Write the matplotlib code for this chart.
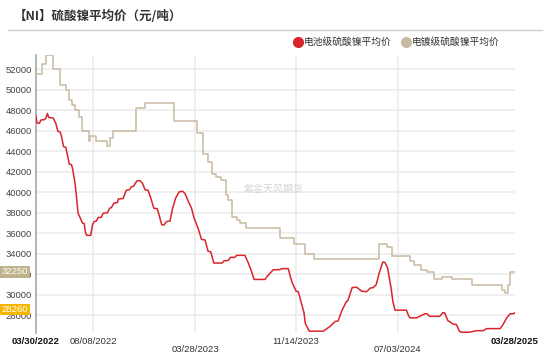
# %% import modules
import numpy as np
import pandas as pd
import matplotlib
matplotlib.use("Agg")
import matplotlib.pyplot as plt
from matplotlib.lines import Line2D

plt.rcParams['font.family'] = ['Liberation Sans', 'Noto Sans CJK SC', 'DejaVu Sans']

# %% Data
# 电镀级 (step series, value holds until next date)
plating_dates = [
    "2022-03-30", "2022-04-12", "2022-04-22", "2022-05-07", "2022-05-24", "2022-06-06",
    "2022-06-13", "2022-06-20", "2022-06-27", "2022-07-06", "2022-07-14", "2022-07-30",
    "2022-08-01", "2022-08-14", "2022-09-07", "2022-09-16", "2022-09-22", "2022-11-14",
    "2022-12-05", "2023-02-09", "2023-04-02", "2023-04-16", "2023-04-27", "2023-05-05",
    "2023-05-16", "2023-05-26", "2023-06-06", "2023-06-12", "2023-06-20", "2023-07-01",
    "2023-07-09", "2023-07-23", "2023-10-09", "2023-11-09", "2023-12-04", "2023-12-25",
    "2024-05-21", "2024-06-09", "2024-06-21", "2024-08-01", "2024-08-10", "2024-08-25",
    "2024-09-07", "2024-09-24", "2024-10-12", "2024-11-03", "2024-12-19", "2025-02-27",
    "2025-03-05", "2025-03-12", "2025-03-17", "2025-03-28",
]
plating_price = [
    51500, 52500, 53400, 52000, 50500, 50000,
    49000, 48500, 48000, 47300, 46000, 45000,
    45500, 45000, 44500, 45300, 46000, 48200,
    48700, 47000, 45800, 43750, 43000, 41800,
    41450, 41200, 39750, 39250, 37550, 37300,
    37000, 36500, 35500, 35000, 34000, 33500,
    35000, 34700, 33750, 33250, 32950, 32450,
    32250, 31500, 31750, 31500, 31000, 30500,
    30200, 31000, 32250, 32250,
]

# 电池级
battery_dates = [
    "2022-03-30", "2022-04-01", "2022-04-07", "2022-04-10", "2022-04-19", "2022-04-22",
    "2022-04-25", "2022-04-28", "2022-05-08", "2022-05-14", "2022-05-19", "2022-05-24",
    "2022-05-27", "2022-06-01", "2022-06-06", "2022-06-09", "2022-06-14", "2022-06-19",
    "2022-06-22", "2022-06-27", "2022-06-30", "2022-07-04", "2022-07-09", "2022-07-14",
    "2022-07-18", "2022-07-21", "2022-07-24", "2022-08-02", "2022-08-06", "2022-08-10",
    "2022-08-15", "2022-08-19", "2022-08-26", "2022-08-30", "2022-09-09", "2022-09-14",
    "2022-09-18", "2022-09-24", "2022-10-02", "2022-10-04", "2022-10-15", "2022-10-22",
    "2022-10-29", "2022-11-03", "2022-11-08", "2022-11-15", "2022-11-22", "2022-11-28",
    "2022-12-04", "2022-12-11", "2022-12-17", "2022-12-24", "2023-01-01", "2023-01-05",
    "2023-01-11", "2023-01-16", "2023-01-22", "2023-01-30", "2023-02-05", "2023-02-12",
    "2023-02-20", "2023-02-28", "2023-03-05", "2023-03-13", "2023-03-20", "2023-03-26",
    "2023-04-04", "2023-04-12", "2023-04-20", "2023-04-27", "2023-05-03", "2023-05-10",
    "2023-05-29", "2023-06-02", "2023-06-12", "2023-06-17", "2023-06-27", "2023-07-01",
    "2023-07-20", "2023-07-28", "2023-08-04", "2023-08-10", "2023-09-04", "2023-09-09",
    "2023-09-23", "2023-10-08", "2023-10-12", "2023-10-27", "2023-11-04", "2023-11-14",
    "2023-11-19", "2023-11-25", "2023-12-02", "2023-12-05", "2023-12-14", "2024-01-15",
    "2024-01-30", "2024-02-11", "2024-02-18", "2024-02-26", "2024-03-08", "2024-03-11",
    "2024-03-21", "2024-03-31", "2024-04-12", "2024-04-23", "2024-05-01", "2024-05-08",
    "2024-05-15", "2024-05-22", "2024-05-30", "2024-06-04", "2024-06-10", "2024-06-18",
    "2024-06-22", "2024-06-27", "2024-07-23", "2024-07-27", "2024-07-31", "2024-08-15",
    "2024-09-03", "2024-09-08", "2024-09-14", "2024-10-07", "2024-10-14", "2024-10-18",
    "2024-10-26", "2024-10-29", "2024-11-06", "2024-11-14", "2024-11-21", "2024-11-25",
    "2024-12-14", "2024-12-30", "2025-01-14", "2025-01-22", "2025-02-22", "2025-02-28",
    "2025-03-09", "2025-03-17", "2025-03-24", "2025-03-28",
]
battery_price = [
    47450, 46750, 46750, 47050, 47100, 47300,
    47700, 47300, 47250, 46750, 45950, 45900,
    45500, 44450, 44400, 43800, 42750, 42700,
    42200, 40900, 39750, 37950, 37500, 37000,
    36950, 36050, 35800, 35800, 36850, 37150,
    37200, 37550, 37550, 37950, 38000, 38450,
    38500, 38950, 39000, 39350, 39400, 40200,
    40250, 40550, 40600, 41100, 41150, 40900,
    40250, 40200, 39450, 38450, 38400, 37800,
    36850, 36800, 37150, 37200, 38450, 39450,
    40050, 40100, 39900, 39100, 38450, 37500,
    36500, 35400, 35350, 34250, 34200, 33100,
    33100, 33300, 33350, 33650, 33650, 33850,
    33850, 33100, 32300, 31500, 31500, 31800,
    32450, 32450, 32550, 32550, 31300, 30350,
    30300, 29350, 28250, 27200, 26450, 26450,
    26900, 27400, 27450, 28400, 29350, 29400,
    30700, 30750, 30350, 30300, 30650, 30700,
    31000, 32150, 33200, 33150, 32600, 30650,
    29350, 28500, 28500, 28050, 27750, 27750,
    28150, 28150, 27900, 27900, 28250, 28250,
    27450, 27400, 27150, 27100, 26450, 26350,
    26350, 26500, 26500, 26700, 26700, 27050,
    27750, 28150, 28150, 28260,
]

label_dates = ["2022-03-30", "2022-08-08", "2023-03-28", "2023-11-14", "2024-07-03", "2025-03-28"]
label_text = ["03/30/2022", "08/08/2022", "03/28/2023", "11/14/2023", "07/03/2024", "03/28/2025"]
y_ticks = np.arange(28000, 52001, 2000)

plating_dates = pd.to_datetime(plating_dates)
battery_dates = pd.to_datetime(battery_dates)
label_dates = pd.to_datetime(label_dates)

red = "#d9252b"
beige = "#c9baa3"

# %% Figure
fig = plt.figure(figsize=(5.5, 3.57), dpi=100)
ax = fig.add_axes([0.0655, 0.068, 0.8709, 0.778])

ax.plot(plating_dates, plating_price, color=beige, lw=1.1, drawstyle="steps-post", zorder=3)
ax.plot(battery_dates, battery_price, color=red, lw=1.1, zorder=4)

ax.set_xlim(label_dates[0], label_dates[-1])
ax.set_ylim(26300, 53400)

# grid
ax.set_yticks(y_ticks)
ax.set_xticks(label_dates[1:-1])
ax.set_xticklabels([])
ax.grid(True, color="#ebebeb", lw=1.1)
ax.set_axisbelow(True)
ax.tick_params(length=0, labelsize=6.8, labelcolor="#444444", pad=3)

for s in ["top", "right", "bottom"]:
    ax.spines[s].set_visible(False)
ax.spines["left"].set_color("#a8a8a8")
ax.spines["left"].set_linewidth(1.2)

# staggered date labels
for i, (d, t) in enumerate(zip(label_dates, label_text)):
    bold = i in (0, len(label_text) - 1)
    y = -0.061 if i in (2, 4) else -0.033
    ax.text(d, y, t, transform=ax.get_xaxis_transform(), ha="center", va="center",
            fontsize=6.8, color="#111111" if bold else "#333333",
            fontweight="bold" if bold else "normal")

# last-value tags on the y axis
ax.text(-0.044, plating_price[-1], f"{plating_price[-1]}", transform=ax.get_yaxis_transform(),
        ha="center", va="center", fontsize=6.8, color="white", zorder=6, clip_on=False,
        bbox=dict(boxstyle="square,pad=0.15", fc="#bfb38e", ec="none"))
ax.text(-0.044, battery_price[-1] + 300, f"{battery_price[-1]}", transform=ax.get_yaxis_transform(),
        ha="center", va="center", fontsize=6.8, color="white", zorder=6, clip_on=False,
        bbox=dict(boxstyle="square,pad=0.15", fc="#f6b500", ec="none"))

# watermark
ax.text(0.497, 0.519, "紫金天风期货", transform=ax.transAxes, ha="center", va="center",
        fontsize=7.2, color="#d4d4d4", family=["Noto Sans CJK SC"], zorder=2)

# title, rule and legend
fig.text(0.0255, 0.955, "【NI】硫酸镍平均价（元/吨）", ha="left", va="center",
         fontsize=9, fontweight="bold", color="#333333", family=["Noto Sans CJK SC"])
fig.add_artist(Line2D([0.0145, 0.985], [0.916, 0.916], transform=fig.transFigure,
                      color="#cccccc", lw=1.0))

legend_items = [(0.5418, red, "电池级硫酸镍平均价"), (0.738, beige, "电镀级硫酸镍平均价")]
for x, c, t in legend_items:
    fig.add_artist(Line2D([x], [0.8824], transform=fig.transFigure, marker="o",
                          markersize=7, color=c, lw=0))
    fig.text(x + 0.011, 0.8824, t, ha="left", va="center", fontsize=7,
             color="#333333", family=["Noto Sans CJK SC"])

fig.savefig("out.png", dpi=100)
